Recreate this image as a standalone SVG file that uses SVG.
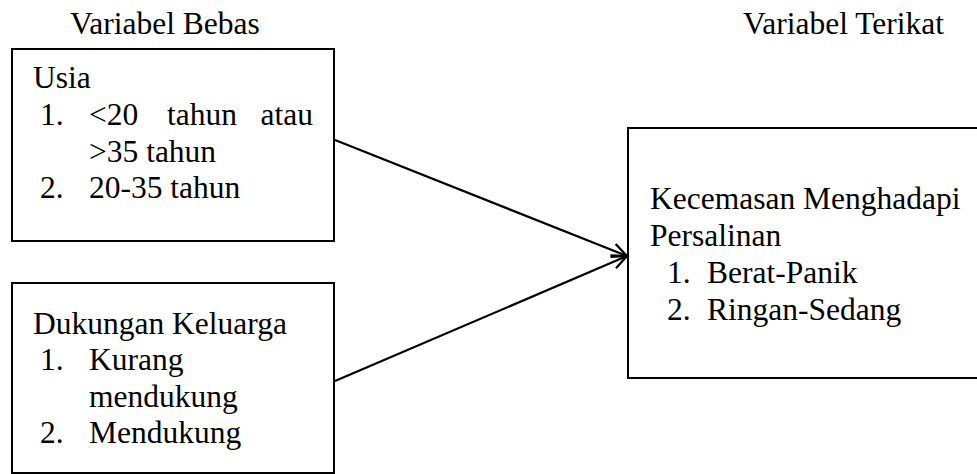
<svg xmlns="http://www.w3.org/2000/svg" width="977" height="474" viewBox="0 0 977 474">
<style>
text{font-family:"Liberation Serif","Times New Roman",serif;font-size:31.5px;fill:#000}
.box{fill:#fff;stroke:#000;stroke-width:2}
.conn{stroke:#000;stroke-width:2.2;fill:none}
</style>
<defs>
<marker id="arr" markerWidth="20" markerHeight="20" refX="16" refY="8" orient="auto" markerUnits="userSpaceOnUse" viewBox="0 0 20 16">
<polyline points="1,1 16,8 1,15" fill="none" stroke="#000" stroke-width="2.2"/>
</marker>
</defs>
<rect width="977" height="474" fill="#fff"/>
<g id="headers">
<text x="70" y="34">Variabel Bebas</text>
<text x="743" y="34">Variabel Terikat</text>
</g>
<g id="node-usia">
<rect class="box" x="12" y="49" width="322" height="192"/>
<text x="33" y="88">Usia</text>
<text x="40" y="125">1.</text>
<text x="89" y="125">&lt;20</text>
<text x="167" y="125">tahun</text>
<text x="313" y="125" text-anchor="end">atau</text>
<text x="89" y="162">&gt;35 tahun</text>
<text x="40" y="198">2.</text>
<text x="89" y="198">20-35 tahun</text>
</g>
<g id="node-dukungan">
<rect class="box" x="12" y="283" width="322" height="190"/>
<text x="33" y="334">Dukungan Keluarga</text>
<text x="40" y="370">1.</text>
<text x="89" y="370">Kurang</text>
<text x="89" y="407">mendukung</text>
<text x="40" y="443">2.</text>
<text x="89" y="443">Mendukung</text>
</g>
<g id="node-kecemasan">
<rect class="box" x="628" y="128" width="360" height="250"/>
<text x="650" y="209">Kecemasan Menghadapi</text>
<text x="650" y="246">Persalinan</text>
<text x="667" y="283">1.</text>
<text x="707" y="283">Berat-Panik</text>
<text x="667" y="320">2.</text>
<text x="707" y="320">Ringan-Sedang</text>
</g>
<g id="connectors">
<line class="conn" x1="335" y1="140" x2="627" y2="256" marker-end="url(#arr)"/>
<line class="conn" x1="335" y1="381" x2="627" y2="256" marker-end="url(#arr)"/>
</g>
</svg>
